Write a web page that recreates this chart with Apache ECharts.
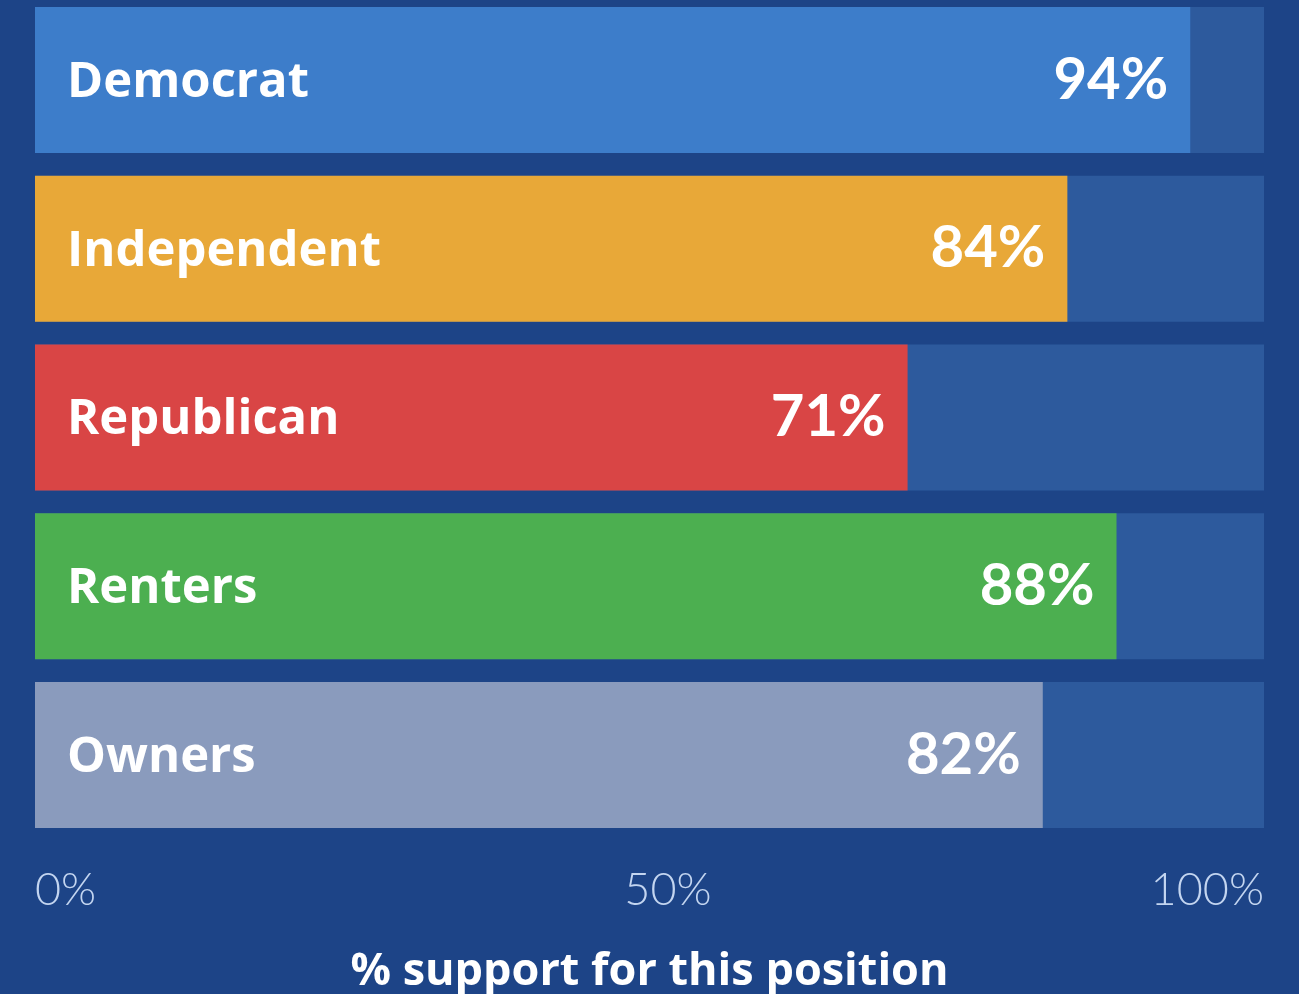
<!DOCTYPE html>
<html><head><meta charset="utf-8">
<script src="https://cdn.jsdelivr.net/npm/echarts@6/dist/echarts.min.js"></script>
<style>html,body{margin:0;padding:0;background:#1d4487;}#c{width:1299px;height:994px;}</style>
</head><body><div id="c"></div>
<script>
const categories = ['Democrat','Independent','Republican','Renters','Owners'];
const values = [94, 84, 71, 88, 82];
const barColors = ['#3d7dca','#e8a838','#d94545','#4caf50','#8a9bbd'];
const tickValues = [0, 50, 100];
const axisTitle = '% support for this position';

const chart = echarts.init(document.getElementById('c'), null, {renderer:'canvas'});
chart.setOption({
  backgroundColor: '#1d4487',
  animation: false,
  grid: {left: 35, right: 35, top: -4.5, height: 844, outerBoundsMode: 'none', containLabel: false},
  xAxis: {
    type: 'value', min: 0, max: 100, interval: 50,
    splitLine: {show: false}, axisLine: {show: false}, axisTick: {show: false},
    axisLabel: {
      color: '#c3d5f0', fontFamily: 'Lato', fontWeight: 300, fontSize: 45, margin: 28,
      alignMinLabel: 'left', alignMaxLabel: 'right',
      formatter: v => v === 50 ? '{m|' + v + '%}' : (tickValues.includes(v) ? v + '%' : ''),
      rich: {m: {color: '#c3d5f0', fontFamily: 'Lato', fontWeight: 300, fontSize: 45, padding: [0, 0, 0, 37]}}
    },
    name: axisTitle, nameLocation: 'middle', nameGap: 110,
    nameTextStyle: {color: '#ffffff', fontFamily: 'Open Sans', fontWeight: 'bold', fontSize: 45}
  },
  yAxis: {
    type: 'category', data: categories, inverse: true,
    axisLine: {show: false}, axisTick: {show: false}, axisLabel: {show: false}
  },
  series: [
    {
      type: 'bar', barWidth: 146,
      data: values.map((v, i) => ({value: v, itemStyle: {color: barColors[i]}})),
      showBackground: true, backgroundStyle: {color: '#2d5a9d'},
      label: {show: true, position: 'insideRight', distance: 22, formatter: p => p.value + '%',
        color: '#ffffff', fontFamily: 'Lato', fontWeight: 'bold', fontSize: 58}
    },
    {
      type: 'bar', barWidth: 146, barGap: '-100%', z: 3,
      data: values.map(v => ({value: v, itemStyle: {color: 'rgba(0,0,0,0)'}})),
      label: {show: true, position: 'insideLeft', distance: 32, offset: [0, 3], formatter: p => p.name,
        color: '#ffffff', fontFamily: 'Open Sans', fontWeight: 'bold', fontSize: 49}
    }
  ]
});
</script></body></html>
